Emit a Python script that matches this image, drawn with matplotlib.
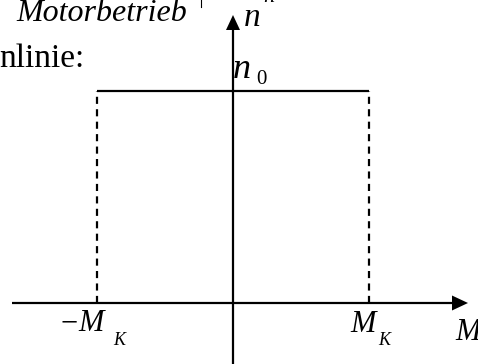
import matplotlib
matplotlib.use('Agg')
import matplotlib.pyplot as plt
import numpy as np

# Kennlinie: n = n0 zwischen -M_K und M_K
M_K = 1.0
n0 = 1.0
M_points = [-M_K, M_K]
n_points = [n0, n0]

# Bildgeometrie (Pixel im 478x364 Bild)
W, H = 478, 364
ox, oy = 233, 303          # Ursprung
sx, sy = 136, 212          # Pixel je Einheit

def px(x, y):
    return (x - ox) / sx, (oy - y) / sy

serif = 'Liberation Serif'

fig = plt.figure(figsize=(W / 100, H / 100), dpi=100)
ax = fig.add_axes([0, 0, 1, 1])
ax.set_xlim(px(0, 0)[0], px(W, 0)[0])
ax.set_ylim(px(0, H)[1], px(0, 0)[1])
ax.axis('off')

lw = 1.6

# Achsen mit Pfeilspitzen
def arrow_head(tip, direction, length, width):
    tx, ty = tip
    if direction == 'right':
        xs = [tx, tx - length / sx, tx - length / sx]
        ys = [ty, ty + width / 2 / sy, ty - width / 2 / sy]
    else:
        xs = [tx, tx - width / 2 / sx, tx + width / 2 / sx]
        ys = [ty, ty - length / sy, ty - length / sy]
    ax.fill(xs, ys, color='black', lw=0)

x_start, x_tip = px(12, 0)[0], px(468, 0)[0]
y_bot, y_tip = px(0, H + 5)[1], px(0, 15)[1]
ax.plot([x_start, x_tip - 10 / sx], [0, 0], color='black', lw=lw, solid_capstyle='butt')
ax.plot([0, 0], [y_bot, y_tip - 10 / sy], color='black', lw=lw, solid_capstyle='butt')
arrow_head((x_tip, 0), 'right', 16, 15)
arrow_head((0, y_tip), 'up', 15, 14)

# Kennlinie
ax.plot(M_points, n_points, color='black', lw=lw, solid_capstyle='butt')
for m in M_points:
    ax.plot([m, m], [0, n0], color='black', lw=lw, dashes=(3.2, 2.4))

# Beschriftungen
def label(x, y, s, size, style='italic'):
    xd, yd = px(x, y)
    ax.text(xd, yd, s, fontsize=size, family=serif, style=style,
            ha='left', va='baseline')

label(16, 21, 'Motorbetrieb', 23)
label(-1, 67, 'nlinie:', 24, 'normal')
label(244, 26, 'n', 24)
label(263, 2, 'n', 16)
label(233, 78, 'n', 26)
label(256, 84, '0', 15, 'normal')
label(61, 331, '\u2212', 22, 'normal')
label(78, 331, 'M', 22)
label(113, 345, 'K', 13)
label(350, 332, 'M', 22)
label(378, 345, 'K', 13)
label(455, 340, 'M', 22)

# kleiner Strich oben
xd, _ = px(201, 0)
ax.plot([xd, xd], [px(0, 0)[1], px(0, 7)[1]], color='black', lw=0.8)

fig.savefig('out.png', dpi=100)
